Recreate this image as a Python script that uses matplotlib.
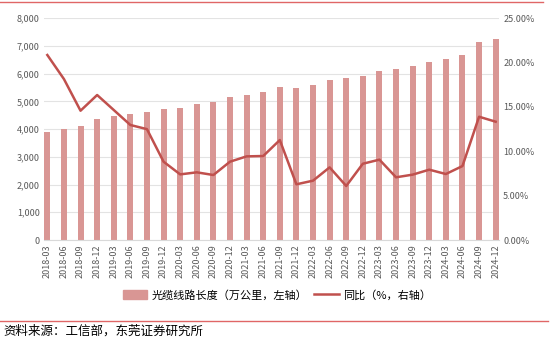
import numpy as np
import matplotlib.pyplot as plt
from matplotlib.lines import Line2D

plt.rcParams['font.family'] = ['Noto Sans CJK SC', 'DejaVu Sans']

quarters = ["2018-03", "2018-06", "2018-09", "2018-12", "2019-03", "2019-06", "2019-09", "2019-12",
            "2020-03", "2020-06", "2020-09", "2020-12", "2021-03", "2021-06", "2021-09", "2021-12",
            "2022-03", "2022-06", "2022-09", "2022-12", "2023-03", "2023-06", "2023-09", "2023-12",
            "2024-03", "2024-06", "2024-09", "2024-12"]
length = [3888, 4007, 4126, 4368, 4466, 4538, 4632, 4730,
          4780, 4890, 4990, 5173, 5235, 5343, 5534, 5476,
          5585, 5776, 5859, 5931, 6090, 6185, 6282, 6415,
          6534, 6690, 7159, 7267]
yoy = [20.86, 18.15, 14.58, 16.35, 14.66, 12.97, 12.50, 8.83,
       7.40, 7.63, 7.33, 8.83, 9.43, 9.47, 11.27, 6.28,
       6.69, 8.19, 6.09, 8.60, 9.06, 7.07, 7.37, 7.93,
       7.44, 8.34, 13.90, 13.34]

bar_color = '#d99694'
line_color = '#c0504d'
tick_color = '#595959'

fig = plt.figure(figsize=(5.54, 3.40), dpi=100)
ax = fig.add_axes([44 / 554, 1 - 240 / 340, 455 / 554, (240 - 18.3) / 340])
x = np.arange(len(quarters))
ax.bar(x, length, width=0.36, color=bar_color, zorder=2)
ax.set_xlim(-0.2, len(quarters) - 0.8)
ax.set_ylim(0, 8000)
ax.set_yticks(np.arange(0, 8001, 1000))
ax.set_yticklabels([f"{v:,}" for v in range(0, 8001, 1000)])
ax.set_xticks(x)
ax.set_xticklabels(quarters, rotation=90)
ax.grid(axis='y', color='#e3e3e3', linewidth=0.8, zorder=0)
for s in ['top', 'right', 'left']:
    ax.spines[s].set_visible(False)
ax.spines['bottom'].set_color('#d9d9d9')
ax.tick_params(axis='both', length=0, labelsize=6.5, colors=tick_color, pad=3)

ax2 = ax.twinx()
ax2.plot(x, yoy, color=line_color, linewidth=1.8, zorder=3)
ax2.set_ylim(0, 25)
ax2.set_yticks(np.arange(0, 26, 5))
ax2.set_yticklabels([f"{v:.2f}%" for v in range(0, 26, 5)])
for s in ['top', 'right', 'left', 'bottom']:
    ax2.spines[s].set_visible(False)
ax2.tick_params(axis='y', length=0, labelsize=6.5, colors=tick_color, pad=3)

handles = [plt.Rectangle((0, 0), 1, 1, color=bar_color),
           Line2D([0], [0], color=line_color, linewidth=1.8)]
fig.legend(handles, ["光缆线路长度（万公里，左轴）", "同比（%，右轴）"],
           loc='center', bbox_to_anchor=(0.5, 1 - 295 / 340), ncol=2, frameon=False,
           fontsize=8, handlelength=2.2, handleheight=0.8, columnspacing=0.6, handletextpad=0.4)

fig.add_artist(Line2D([0, 543 / 554], [1 - 1.5 / 340, 1 - 1.5 / 340], color='#e06666', linewidth=1))
fig.add_artist(Line2D([0, 548 / 554], [1 - 321 / 340, 1 - 321 / 340], color='#e06666', linewidth=1))
fig.text(3 / 554, 1 - 331 / 340, "资料来源：工信部，东莞证券研究所", fontsize=9, va='center', ha='left', color='#000000')

fig.savefig('out.png', dpi=100)
